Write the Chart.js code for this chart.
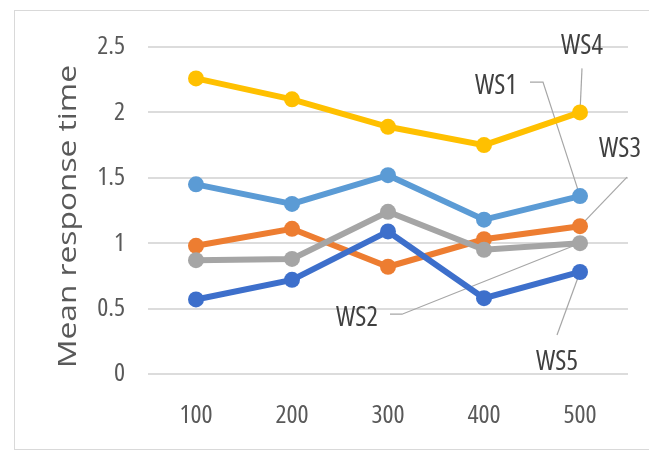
<!DOCTYPE html>
<html>
<head>
<meta charset="utf-8">
<script src="https://cdn.jsdelivr.net/npm/chart.js@4/dist/chart.umd.min.js"></script>
<style>
  html, body { margin: 0; padding: 0; background: #ffffff; }
  canvas { display: block; }
</style>
</head>
<body>
<canvas id="chart" width="649" height="451"></canvas>
<script>
// Request counts on the x axis, mean response time per web service
const categories = ['100', '200', '300', '400', '500'];
const ws1 = [1.45, 1.30, 1.52, 1.18, 1.36];
const ws2 = [0.87, 0.88, 1.24, 0.95, 1.00];
const ws3 = [0.98, 1.11, 0.82, 1.03, 1.13];
const ws4 = [2.26, 2.10, 1.89, 1.75, 2.00];
const ws5 = [0.57, 0.72, 1.09, 0.58, 0.78];
const yTicks = [0, 0.5, 1, 1.5, 2, 2.5];
const seriesNames = ['WS1', 'WS2', 'WS3', 'WS4', 'WS5'];
const axisTitle = 'Mean response time';

const colors = ['#5b9bd5', '#a5a5a5', '#ed7d31', '#ffc000', '#3d6fcb'];
const drawOrder = [4, 2, 3, 5, 1]; // lower = drawn on top
const seriesValues = [ws1, ws2, ws3, ws4, ws5];

const LABEL_FAMILY = '"Open Sans", "Liberation Sans", sans-serif';

// Callout labels attached to the last point of each series:
// text centre offset and leader path offsets, relative to that point.
const callouts = [
  { ds: 0, dx: -84, dy: -112, path: [[-50, -114], [-37, -114], [0, 0]] },
  { ds: 1, dx: -223, dy: 73,  path: [[-190, 71], [-178, 71], [0, 0]] },
  { ds: 2, dx: 40,  dy: -79,  path: [[47, -49], [0, 0]] },
  { ds: 3, dx: 2,   dy: -68,  path: [[2, -44], [0, 0]] },
  { ds: 4, dx: -23, dy: 89,   path: [[-23, 63], [0, 0]] }
];

const frame = {
  id: 'frame',
  beforeDraw(chart) {
    const ctx = chart.ctx;
    ctx.save();
    ctx.fillStyle = '#ffffff';
    ctx.fillRect(0, 0, chart.width, chart.height);
    ctx.strokeStyle = '#d9d9d9';
    ctx.lineWidth = 1;
    ctx.strokeRect(14.5, 10.5, 660, 439);
    ctx.restore();
  },
  afterDraw(chart) {
    // rotated axis title, stretched along its length
    const ctx = chart.ctx;
    ctx.save();
    ctx.font = '25px "Open Sans"';
    ctx.fillStyle = '#595959';
    ctx.textAlign = 'center';
    ctx.textBaseline = 'alphabetic';
    const w = ctx.measureText(axisTitle).width;
    ctx.translate(76, 216.5);
    ctx.rotate(-Math.PI / 2);
    ctx.scale(303 / w, 1);
    ctx.fillText(axisTitle, 0, 0);
    ctx.restore();
  }
};

function lastPoint(chart, ds) {
  const pts = chart.getDatasetMeta(ds).data;
  return pts[pts.length - 1];
}

const calloutPlugin = {
  id: 'callouts',
  beforeDatasetsDraw(chart) {
    const ctx = chart.ctx;
    ctx.save();
    ctx.strokeStyle = '#a6a6a6';
    ctx.lineWidth = 1.2;
    callouts.forEach(c => {
      const p = lastPoint(chart, c.ds);
      ctx.beginPath();
      c.path.forEach(([ox, oy], i) => {
        if (i === 0) ctx.moveTo(p.x + ox, p.y + oy);
        else ctx.lineTo(p.x + ox, p.y + oy);
      });
      ctx.stroke();
    });
    ctx.restore();
  },
  afterDatasetsDraw(chart) {
    const ctx = chart.ctx;
    ctx.save();
    ctx.font = 'condensed 27px ' + LABEL_FAMILY;
    ctx.fillStyle = '#404040';
    ctx.textAlign = 'center';
    ctx.textBaseline = 'alphabetic';
    callouts.forEach(c => {
      const p = lastPoint(chart, c.ds);
      ctx.fillText(seriesNames[c.ds], p.x + c.dx, p.y + c.dy + 9.5);
    });
    ctx.restore();
  }
};

const tickFont = { family: LABEL_FAMILY, size: 26, weight: 'condensed' };

new Chart(document.getElementById('chart'), {
  type: 'line',
  data: {
    labels: categories,
    datasets: seriesValues.map((vals, i) => ({
      label: seriesNames[i],
      data: vals,
      borderColor: colors[i],
      backgroundColor: colors[i],
      pointBackgroundColor: colors[i],
      pointBorderColor: colors[i],
      borderWidth: 6,
      pointRadius: 8,
      pointBorderWidth: 0,
      tension: 0,
      order: drawOrder[i]
    }))
  },
  options: {
    responsive: false,
    animation: false,
    devicePixelRatio: 1,
    layout: { padding: { left: 0, right: 21, top: 47, bottom: 0 } },
    plugins: { legend: { display: false }, tooltip: { enabled: false } },
    scales: {
      x: {
        offset: true,
        grid: { display: false, drawTicks: false },
        border: { display: false },
        ticks: { padding: 26, color: '#595959', font: tickFont },
        afterFit(scale) { scale.height = 77; }
      },
      y: {
        min: 0,
        max: 2.5,
        grid: { color: '#dcdcdc', lineWidth: 2, drawTicks: false },
        border: { display: false },
        afterBuildTicks(scale) { scale.ticks = yTicks.map(v => ({ value: v })); },
        ticks: {
          padding: 23,
          color: '#595959',
          font: tickFont,
          callback: v => String(v)
        },
        afterFit(scale) { scale.width = 148; }
      }
    }
  },
  plugins: [frame, calloutPlugin]
});
</script>
</body>
</html>
